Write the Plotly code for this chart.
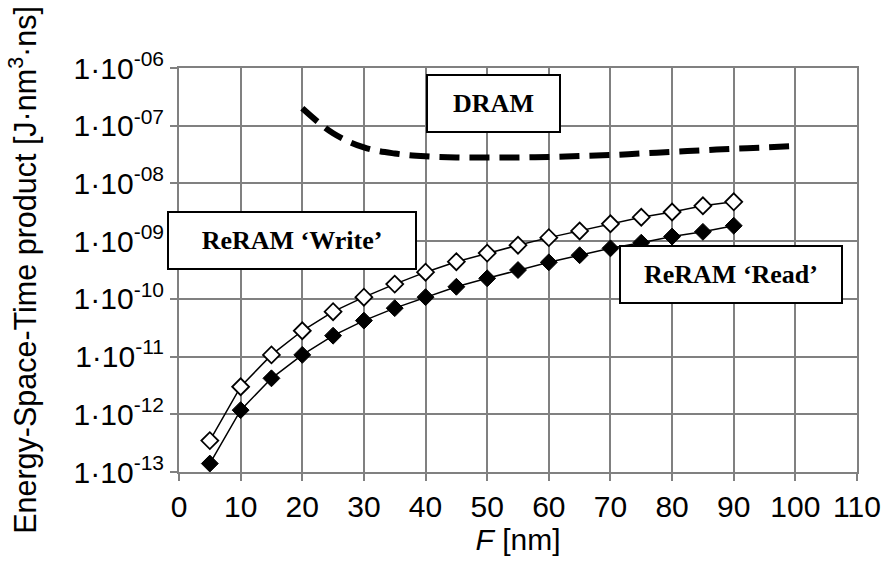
import plotly.graph_objects as go

# Data
F_reram = [5, 10, 15, 20, 25, 30, 35, 40, 45, 50, 55, 60, 65, 70, 75, 80, 85, 90]
write_vals = [3.5e-13, 3.0e-12, 1.07e-11, 2.8e-11, 6.0e-11, 1.07e-10, 1.8e-10, 2.9e-10, 4.4e-10,
              6.2e-10, 8.5e-10, 1.15e-9, 1.5e-9, 2.0e-9, 2.6e-9, 3.2e-9, 4.1e-9, 4.8e-9]
read_vals = [1.4e-13, 1.18e-12, 4.2e-12, 1.07e-11, 2.3e-11, 4.2e-11, 6.9e-11, 1.07e-10, 1.62e-10,
             2.27e-10, 3.16e-10, 4.3e-10, 5.7e-10, 7.5e-10, 9.4e-10, 1.2e-9, 1.45e-9, 1.85e-9]
F_dram = [20, 25, 30, 35, 40, 45, 50, 55, 60, 65, 70, 75, 80, 85, 90, 95, 100]
dram_vals = [2.0e-7, 7.4e-8, 4.2e-8, 3.3e-8, 2.95e-8, 2.82e-8, 2.8e-8, 2.82e-8, 2.88e-8, 2.98e-8,
             3.1e-8, 3.3e-8, 3.52e-8, 3.75e-8, 4.0e-8, 4.2e-8, 4.45e-8]

x_ticks = list(range(0, 111, 10))
y_tickvals = [1e-13, 1e-12, 1e-11, 1e-10, 1e-9, 1e-8, 1e-7, 1e-6]
y_ticktext = ["1·10<sup>-13</sup>", "1·10<sup>-12</sup>", "1·10<sup>-11</sup>", "1·10<sup>-10</sup>",
              "1·10<sup>-09</sup>", "1·10<sup>-08</sup>", "1·10<sup>-07</sup>", "1·10<sup>-06</sup>"]

labels = ["DRAM", "ReRAM ‘Write’", "ReRAM ‘Read’"]

fig = go.Figure()
fig.add_trace(go.Scatter(x=F_dram, y=dram_vals, mode="lines", line=dict(color="black", width=6, dash="20px,10px", shape="spline"),
                         showlegend=False, hoverinfo="skip"))
fig.add_trace(go.Scatter(x=F_reram, y=write_vals, mode="lines+markers", line=dict(color="black", width=1.5),
                         marker=dict(symbol="diamond", size=13, color="white", line=dict(color="black", width=1.8)),
                         showlegend=False))
fig.add_trace(go.Scatter(x=F_reram, y=read_vals, mode="lines+markers", line=dict(color="black", width=1.5),
                         marker=dict(symbol="diamond", size=13, color="black", line=dict(color="black", width=1)),
                         showlegend=False))

grid = "#808080"
sans = "Liberation Sans, Arial"
fig.update_xaxes(range=[0, 110], tickvals=x_ticks, showgrid=True, gridcolor=grid, gridwidth=2,
                 showline=True, linecolor=grid, linewidth=2, mirror=True, ticks="outside", ticklen=7,
                 tickcolor=grid, tickwidth=2, zeroline=False,
                 tickfont=dict(family=sans, size=30, color="black"),
                 title=dict(text="<i>F</i> [nm]", font=dict(family=sans, size=30, color="black"),
                            standoff=7))
fig.update_yaxes(type="log", range=[-13, -6], tickvals=y_tickvals, ticktext=y_ticktext, showgrid=True,
                 gridcolor=grid, gridwidth=2, showline=True, linecolor=grid, linewidth=2, mirror=True,
                 ticks="outside", ticklen=7, tickcolor=grid, tickwidth=2, zeroline=False,
                 tickfont=dict(family=sans, size=30, color="black"),
                 title=dict(text="Energy-Space-Time product [J·nm<sup>3</sup>·ns]",
                            font=dict(family=sans, size=30.5, color="black"), standoff=28))

serif = dict(family="Liberation Serif, Times New Roman", size=26, color="black")
ann = [
    (labels[0], 0.464, 0.913, 131, 55),
    (labels[1], 0.167, 0.574, 246, 55),
    (labels[2], 0.8137, 0.488, 220, 55),
]
for text, ax, ay, w, h in ann:
    fig.add_annotation(text="<b>" + text + "</b>", xref="paper", yref="paper", x=ax, y=ay,
                       xanchor="center", yanchor="middle", showarrow=False, font=serif,
                       bgcolor="white", bordercolor="black", borderwidth=2, borderpad=0,
                       width=w, height=h)

fig.update_layout(width=893, height=566, margin=dict(l=179, r=27, t=68, b=94),
                  plot_bgcolor="white", paper_bgcolor="white")
fig.write_html("out.html")
